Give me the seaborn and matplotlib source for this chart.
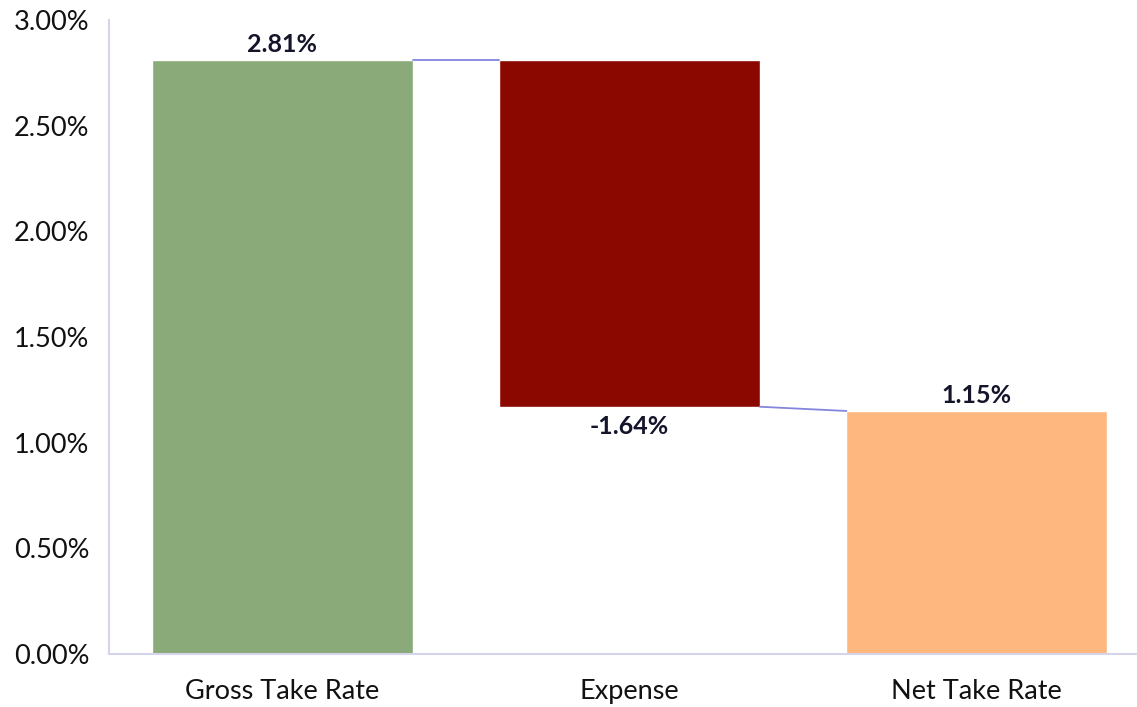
import matplotlib
matplotlib.use('Agg')
import pandas as pd
import seaborn as sns
import matplotlib.pyplot as plt
from matplotlib.ticker import FuncFormatter

# Data (percent)
categories = ['Gross Take Rate', 'Expense', 'Net Take Rate']
values = [2.81, -1.64, 1.15]
colors = ['#8AAA79', '#8B0800', '#FFB780']

# waterfall tops / bases
gross, expense, net = values
tops = [gross, gross, net]
bases = [0, gross + expense, 0]

df = pd.DataFrame({'category': categories, 'top': tops, 'base': bases})

sns.set_style('white')
plt.rcParams['font.family'] = ['Lato', 'DejaVu Sans']

fig = plt.figure(figsize=(11.37, 7.07), dpi=100)
ax = fig.add_axes([109 / 1137, 53 / 707, 1041 / 1137, 634 / 707])

bar_w = 0.75
sns.barplot(data=df, x='category', y='top', hue='category', palette=colors,
            width=bar_w, legend=False, ax=ax, saturation=1)
# white base hides the lower part of the floating bar
sns.barplot(data=df, x='category', y='base', color='white',
            width=bar_w + 0.01, ax=ax, saturation=1)

# connectors
line_col = '#8585DD'
ax.plot([0 + bar_w / 2, 1 - bar_w / 2], [gross, gross], color=line_col, lw=1.3)
ax.plot([1 + bar_w / 2, 2 - bar_w / 2], [gross + expense, net], color=line_col, lw=1.3)

# value labels
lab_col = '#14142B'
ax.text(0, gross + 0.02, f'{gross:.2f}%', ha='center', va='bottom',
        fontsize=18, fontweight='bold', color=lab_col)
ax.text(1, gross + expense - 0.04, f'{expense:.2f}%', ha='center', va='top',
        fontsize=18, fontweight='bold', color=lab_col)
ax.text(2, net + 0.02, f'{net:.2f}%', ha='center', va='bottom',
        fontsize=18, fontweight='bold', color=lab_col)

ax.set_xlim(-0.5, 2.5)
ax.set_ylim(0, 3.0)
ax.set_yticks([0, 0.5, 1.0, 1.5, 2.0, 2.5, 3.0])
ax.yaxis.set_major_formatter(FuncFormatter(lambda v, p: f'{v:.2f}%'))
ax.set_xlabel('')
ax.set_ylabel('')
ax.tick_params(axis='y', length=0, pad=14, labelsize=19.5, labelcolor='#111111')
ax.tick_params(axis='x', length=0, pad=18, labelsize=19.5, labelcolor='#111111')

for s in ['top', 'right']:
    ax.spines[s].set_visible(False)
for s in ['left', 'bottom']:
    ax.spines[s].set_color('#D4D4EA')
    ax.spines[s].set_linewidth(1.5)

fig.savefig('out.png', dpi=100)
